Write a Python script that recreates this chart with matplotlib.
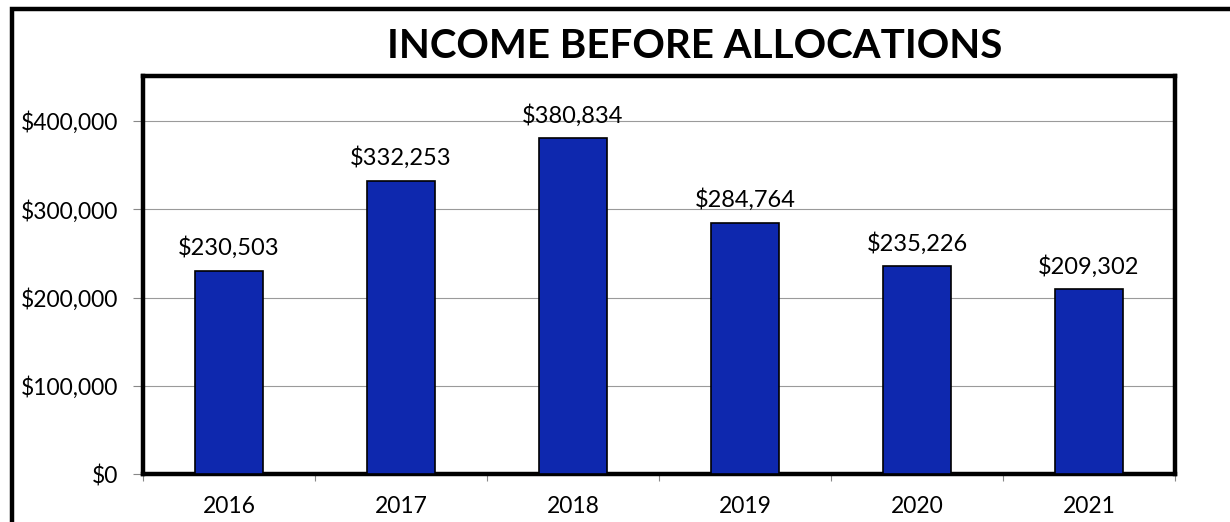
import matplotlib.pyplot as plt
from matplotlib.patches import Rectangle
from matplotlib.ticker import FuncFormatter, FixedLocator
import numpy as np

years = ["2016", "2017", "2018", "2019", "2020", "2021"]
income = [230503, 332253, 380834, 284764, 235226, 209302]
y_ticks = [0, 100000, 200000, 300000, 400000]

plt.rcParams['font.family'] = ['Lato', 'DejaVu Sans']

fig = plt.figure(figsize=(12.3, 5.22), dpi=100)
W, H = 1230, 522

# outer frame around the whole chart (runs off the right and bottom)
fig.patches.append(Rectangle((12 / W, -0.1), 1.2, (H - 9) / H + 0.1,
                             transform=fig.transFigure, fill=False,
                             edgecolor='black', linewidth=3.2))

ax = fig.add_axes([143 / W, (H - 474) / H, (1175 - 143) / W, (474 - 76) / H])

x = np.arange(len(years))
ax.bar(x, income, width=0.4, color='#0e28ae', edgecolor='black',
       linewidth=1.2, zorder=3)

for xi, v in zip(x, income):
    ax.text(xi, v + 13000, f"${v:,}", ha='center', va='bottom', fontsize=17)

ax.set_xlim(-0.5, len(years) - 0.5)
ax.set_ylim(0, 451000)
ax.set_yticks(y_ticks)
ax.yaxis.set_major_formatter(FuncFormatter(lambda v, p: f"${int(v):,}"))
ax.grid(axis='y', color='#9a9a9a', linewidth=0.8, zorder=0)

ax.set_xticks(x)
ax.set_xticklabels(years)
ax.xaxis.set_minor_locator(FixedLocator(np.arange(-0.5, len(years), 1)))
ax.tick_params(axis='x', which='major', length=0, pad=16, labelsize=16.5)
ax.tick_params(axis='x', which='minor', length=5, color='#888888', width=0.8)
ax.tick_params(axis='y', length=7, color='#888888', width=0.8, pad=11,
               labelsize=16.5)

for s in ax.spines.values():
    s.set_linewidth(3.2)
    s.set_color('black')

fig.text(695 / W, 1 - 47 / H, "INCOME BEFORE ALLOCATIONS", ha='center',
         va='center', fontsize=29, fontweight='bold')

fig.savefig("out.png", dpi=100)
